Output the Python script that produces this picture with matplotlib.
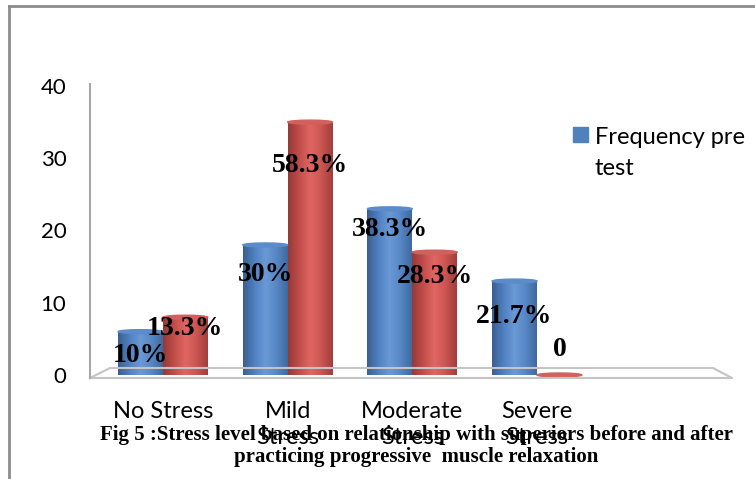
import numpy as np
import matplotlib as mpl
mpl.use('Agg')
import matplotlib.pyplot as plt
import matplotlib.patches as mpatches
from matplotlib.colors import LinearSegmentedColormap
from matplotlib.patches import Ellipse
from matplotlib.lines import Line2D
from matplotlib.legend_handler import HandlerPatch

# stress categories and frequencies (n = 60)
categories = ['No Stress', 'Mild\nStress', 'Moderate\nStress', 'Severe\nStress']
pre_freq = [6, 18, 23, 13]
post_freq = [8, 35, 17, 0]
pre_labels = ['10%', '30%', '38.3%', '21.7%']
post_labels = ['13.3%', '58.3%', '28.3%', '0']
yticks = [0, 10, 20, 30, 40]

caption = ('Fig 5 :Stress level based on relationship with superiors before and after\n'
           'practicing progressive  muscle relaxation')

W, H = 755, 479
sans = ['Lato', 'DejaVu Sans']
serif = ['Liberation Serif', 'DejaVu Serif']

def px(x, y):
    # pixel position (from top-left) -> figure fraction
    return x / W, 1 - y / H

fig = plt.figure(figsize=(W / 100, H / 100), dpi=100)
ax = fig.add_axes([90 / W, (H - 375) / H, 645 / W, 289 / H])
ax.set_xlim(-0.585, 4.588)
ax.set_ylim(0, 40)
for s in ax.spines.values():
    s.set_visible(False)

# outer chart border (top and left edge)
fig.add_artist(Line2D([9 / W, 1], [1 - 6 / H] * 2, color='#8c8c8c', lw=2))
fig.add_artist(Line2D([9 / W] * 2, [0, 1 - 6 / H], color='#8c8c8c', lw=2))

# pseudo-3d floor and wall edge
floor = [(90, 378), (110, 368), (713, 368), (732, 378), (90, 378)]
fx, fy = zip(*[px(*p) for p in floor])
fig.add_artist(Line2D(fx, fy, color='#c4c4c4', lw=1.5, zorder=0.5))
vx, vy = zip(px(90, 84), px(90, 378))
fig.add_artist(Line2D(vx, vy, color='#a8a8a8', lw=1.5, zorder=0.5))

blue_cm = LinearSegmentedColormap.from_list(
    'b', ['#3a5f92', '#5080c0', '#6a99d6', '#5787c6', '#40699f'])
red_cm = LinearSegmentedColormap.from_list(
    'r', ['#953a38', '#c24d4a', '#e26663', '#cb5451', '#a03f3d'])

x = np.arange(len(categories))
w = 0.36
grad = np.linspace(0, 1, 64).reshape(1, -1)

def cylinders(xpos, vals, cmap, top_color, base_color):
    bars = ax.bar(xpos, vals, w, color=base_color, zorder=2)
    for b in bars:
        x0, h = b.get_x(), b.get_height()
        if h > 0:
            im = ax.imshow(grad, cmap=cmap, aspect='auto', zorder=2.1,
                           extent=(x0, x0 + w, 0, h))
            im.set_clip_path(b)
        ax.add_patch(Ellipse((x0 + w / 2, h), w, 0.55, color=top_color,
                             zorder=2.2, clip_on=False))
    return bars

pre_bars = cylinders(x - w / 2, pre_freq, blue_cm, '#5b8bcb', '#4f81bd')
post_bars = cylinders(x + w / 2, post_freq, red_cm, '#d2605d', '#c0504d')

# data labels: pixels below each bar top
pre_dy = [24, 30, 21, 35]
post_dy = [11, 43, 24, -26]
lab_font = dict(family=serif, fontweight='bold', fontsize=20, ha='center',
                va='center', zorder=5)
for bars, labs, dys in [(pre_bars, pre_labels, pre_dy),
                        (post_bars, post_labels, post_dy)]:
    for b, lab, dy in zip(bars, labs, dys):
        ax.annotate(lab, (b.get_x() + w / 2, b.get_height()),
                    xytext=(0, -dy * 0.72), textcoords='offset points',
                    annotation_clip=False, **lab_font)

ax.set_yticks(yticks)
ax.set_yticklabels([str(t) for t in yticks], family=sans, fontsize=16)
ax.set_xticks(x)
ax.set_xticklabels(categories, family=sans, fontsize=17, linespacing=1.25)
ax.tick_params(axis='y', length=0, pad=17)
ax.tick_params(axis='x', length=0, pad=19)

# legend key sits level with the first line of its wrapped label
def first_line_key(legend, orig_handle, xdescent, ydescent, width, height, fontsize):
    return mpatches.Rectangle((-xdescent, -ydescent + 0.8 * fontsize), width, height)

leg = fig.legend([mpatches.Patch(color='#4f81bd')], ['Frequency pre\ntest'],
                 loc='upper left', bbox_to_anchor=px(573, 127), frameon=False,
                 prop=dict(family=sans, size=17), handlelength=0.62,
                 handleheight=0.62, handletextpad=0.3, borderpad=0,
                 borderaxespad=0,
                 handler_map={mpatches.Patch: HandlerPatch(patch_func=first_line_key)})
leg.get_texts()[0].set_linespacing(1.6)

fig.text(*px(416, 446), caption, ha='center', va='center', family=serif,
         fontweight='bold', fontsize=15, linespacing=1.1, zorder=6)

fig.savefig('out.png', dpi=100)
